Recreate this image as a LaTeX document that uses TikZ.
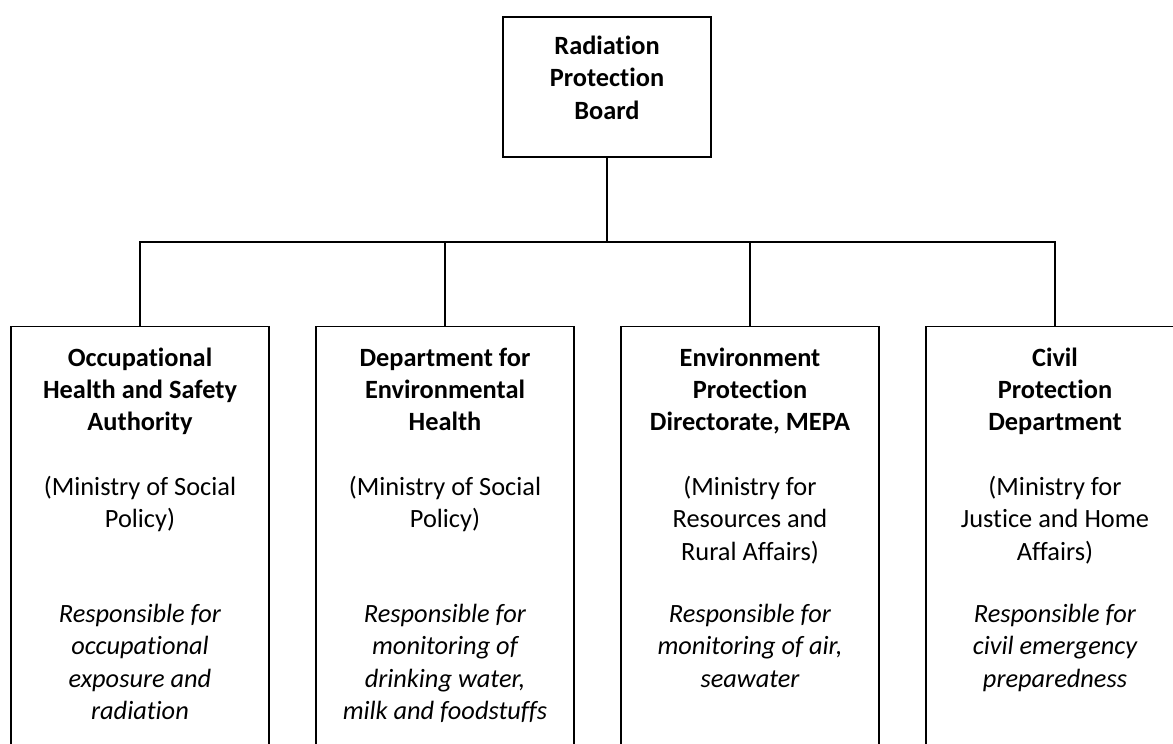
\documentclass[tikz,border=0pt]{standalone}
\usepackage{fontspec}
\setmainfont{Carlito}[Ligatures=NoCommon]
\usetikzlibrary{positioning}

\tikzset{
  unitbox/.style={draw, anchor=north, minimum width=5.16cm, minimum height=9.5cm},
  headtext/.style={anchor=north, align=center, inner sep=0pt, font=\bfseries\fontsize{15}{18.4}\selectfont},
  mintext/.style={anchor=north, align=center, inner sep=0pt, font=\fontsize{15}{18.4}\selectfont},
  dutytext/.style={anchor=north, align=center, inner sep=0pt, font=\itshape\fontsize{15}{18.4}\selectfont},
}

\begin{document}
\begin{tikzpicture}[line width=0.85pt]
  % page frame, cut at the right and at the bottom like the original
  \useasboundingbox (0,0) rectangle (23.46,14.86);
  \clip (0,0) rectangle (23.46,14.86);

  % Board
  \node[draw, minimum width=4.16cm, minimum height=2.8cm] (board) at (12.14,13.12) {};
  \node[headtext, below=0.38cm of board.north] (board-head) {Radiation\\Protection\\Board};

  % Departments
  \foreach \n/\x/\head/\min/\duty in {
    ohsa/2.80/{Occupational\\Health and Safety\\Authority}/{(Ministry of Social\\Policy)}/{Responsible for\\occupational\\exposure and\\radiation},
    deh/8.90/{Department for\\Environmental\\Health}/{(Ministry of Social\\Policy)}/{Responsible for\\monitoring of\\drinking water,\\milk and foodstuffs},
    epd/15.00/{Environment\\Protection\\Directorate, MEPA}/{(Ministry for\\Resources and\\Rural Affairs)}/{Responsible for\\monitoring of air,\\seawater},
    cpd/21.10/{Civil\\Protection\\Department}/{(Ministry for\\Justice and Home\\Affairs)}/{Responsible for\\civil emergency\\preparedness}} {
    \node[unitbox] (\n) at (\x,8.34) {};
    \node[headtext, below=0.42cm of \n.north] (\n-head) {\head};
    \node[mintext, below=2.99cm of \n.north] (\n-min) {\min};
    \node[dutytext, below=5.55cm of \n.north] (\n-duty) {\duty};
  }

  % Connectors
  \coordinate (bar) at (board.south |- 0,10.02);
  \draw (board.south) -- (bar);
  \foreach \n in {ohsa,deh,epd,cpd} \draw (\n.north) |- (bar);
\end{tikzpicture}
\end{document}
